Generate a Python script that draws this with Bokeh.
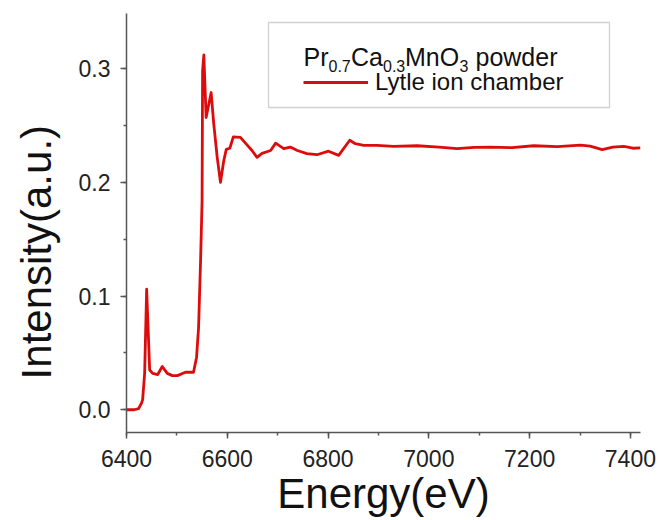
from bokeh.plotting import figure
from bokeh.models import (Range1d, SingleIntervalTicker, NumeralTickFormatter, Legend, LegendItem,
                          BoxAnnotation, Label)
from bokeh.embed import file_html
from bokeh.resources import INLINE

# ---- data ----
energy = [6400, 6415, 6424, 6430, 6432, 6436, 6440, 6443, 6446, 6452, 6462, 6471, 6481,
          6491, 6501, 6517, 6533, 6539, 6543, 6547, 6550, 6551, 6553.5, 6558, 6568,
          6573, 6580, 6586.5, 6593, 6598, 6605, 6612, 6626, 6640, 6649, 6659, 6669,
          6686, 6696, 6712, 6725, 6739, 6758, 6778, 6801, 6821, 6843, 6854, 6871,
          6897, 6930, 6977, 7020, 7056, 7090, 7122, 7165, 7208, 7255, 7301, 7320,
          7344, 7365, 7387, 7405, 7420]
intensity = [0.000, 0.000, 0.001, 0.006, 0.009, 0.032, 0.106, 0.070, 0.035, 0.032, 0.031,
             0.038, 0.032, 0.030, 0.030, 0.033, 0.033, 0.046, 0.072, 0.131, 0.184, 0.298,
             0.312, 0.257, 0.279, 0.252, 0.222, 0.200, 0.219, 0.229, 0.230, 0.240, 0.2395,
             0.2325, 0.228, 0.222, 0.2255, 0.228, 0.2345, 0.2296, 0.231, 0.228, 0.2252,
             0.2243, 0.2274, 0.2237, 0.237, 0.234, 0.2325, 0.2325, 0.2316, 0.2322, 0.2310,
             0.2296, 0.2308, 0.2310, 0.2305, 0.2322, 0.2315, 0.2327, 0.2318, 0.2287,
             0.2310, 0.2316, 0.2300, 0.2304]

x_ticks_interval = 200
y_ticks_interval = 0.1
x_title = "Energy(eV)"
y_title = "Intensity(a.u.)"
series_label = "Lytle ion chamber"
sample_parts = ["Pr", "0.7", "Ca", "0.3", "MnO", "3", "powder"]

FONT = "Liberation Sans"
RED = "#dd0c0c"
AXC = "#555555"

X0, X1 = 6400, 7420
Y0, Y1 = -0.02, 0.3485
FL, FT, FW, FH = 126, 13, 514, 419   # frame position in the screenshot (px)

def sx(px):
    return X0 + (px - FL) * (X1 - X0) / FW

def sy(py):
    return Y1 - (py - FT) * (Y1 - Y0) / FH

p = figure(frame_width=FW, frame_height=FH, output_backend="svg", toolbar_location=None,
           x_range=Range1d(X0, X1), y_range=Range1d(Y0, Y1),
           min_border_left=FL, min_border_top=FT, min_border_right=18,
           min_border_bottom=520 - FT - FH)
p.outline_line_color = None
p.xgrid.visible = False
p.ygrid.visible = False
p.background_fill_color = "white"
p.border_fill_color = "white"

r = p.line(energy, intensity, line_color=RED, line_width=2.8, line_join="round")

for ax in (p.xaxis[0], p.yaxis[0]):
    ax.axis_line_color = AXC
    ax.axis_line_width = 1.5
    ax.major_tick_line_color = AXC
    ax.minor_tick_line_color = AXC
    ax.major_tick_line_width = 1.5
    ax.minor_tick_line_width = 1.5
    ax.major_tick_in = 0
    ax.major_tick_out = 6
    ax.minor_tick_in = 0
    ax.minor_tick_out = 3
    ax.major_label_text_font = FONT
    ax.major_label_text_font_size = "23px"
    ax.major_label_text_color = "#222222"
    ax.axis_label_text_font = FONT
    ax.axis_label_text_font_size = "42px"
    ax.axis_label_text_font_style = "normal"
    ax.axis_label_text_color = "#111111"

p.xaxis[0].ticker = SingleIntervalTicker(interval=x_ticks_interval, num_minor_ticks=2)
p.yaxis[0].ticker = SingleIntervalTicker(interval=y_ticks_interval, num_minor_ticks=2)
p.yaxis[0].formatter = NumeralTickFormatter(format="0.0")
p.xaxis[0].axis_label = x_title
p.yaxis[0].axis_label = y_title + "\u00a0" * 5
p.xaxis[0].major_label_standoff = 11
p.xaxis[0].axis_label_standoff = 0
p.yaxis[0].major_label_standoff = 10
p.yaxis[0].axis_label_standoff = 16

# legend box
box = BoxAnnotation(left=sx(268), right=sx(609), top=sy(22), bottom=sy(107),
                    fill_color="white", fill_alpha=1.0, line_color="#666666", line_width=1.3,
                    level="annotation")
p.add_layout(box)

legend = Legend(items=[LegendItem(label=series_label, renderers=[r])],
                location=(303 - FL, (FT + FH) - 96), margin=0, padding=0, spacing=0,
                glyph_width=65, glyph_height=28, label_height=28, label_standoff=7,
                border_line_alpha=0, background_fill_alpha=0,
                label_text_font=FONT, label_text_font_size="24px", label_text_color="#111111")
p.add_layout(legend)

# sample name with subscripts
xs = [303, 328, 350.5, 382.5, 404.5, 459, 475]
big = [True, False, True, False, True, False, True]
for txt, xp, b in zip(sample_parts, xs, big):
    p.add_layout(Label(x=sx(xp), y=sy(56 if b else 65), text=txt,
                       text_font=FONT, text_font_size="25px" if b else "16px",
                       text_color="#111111", text_baseline="alphabetic", text_align="left"))

open("out.html", "w").write(file_html(p, INLINE))
